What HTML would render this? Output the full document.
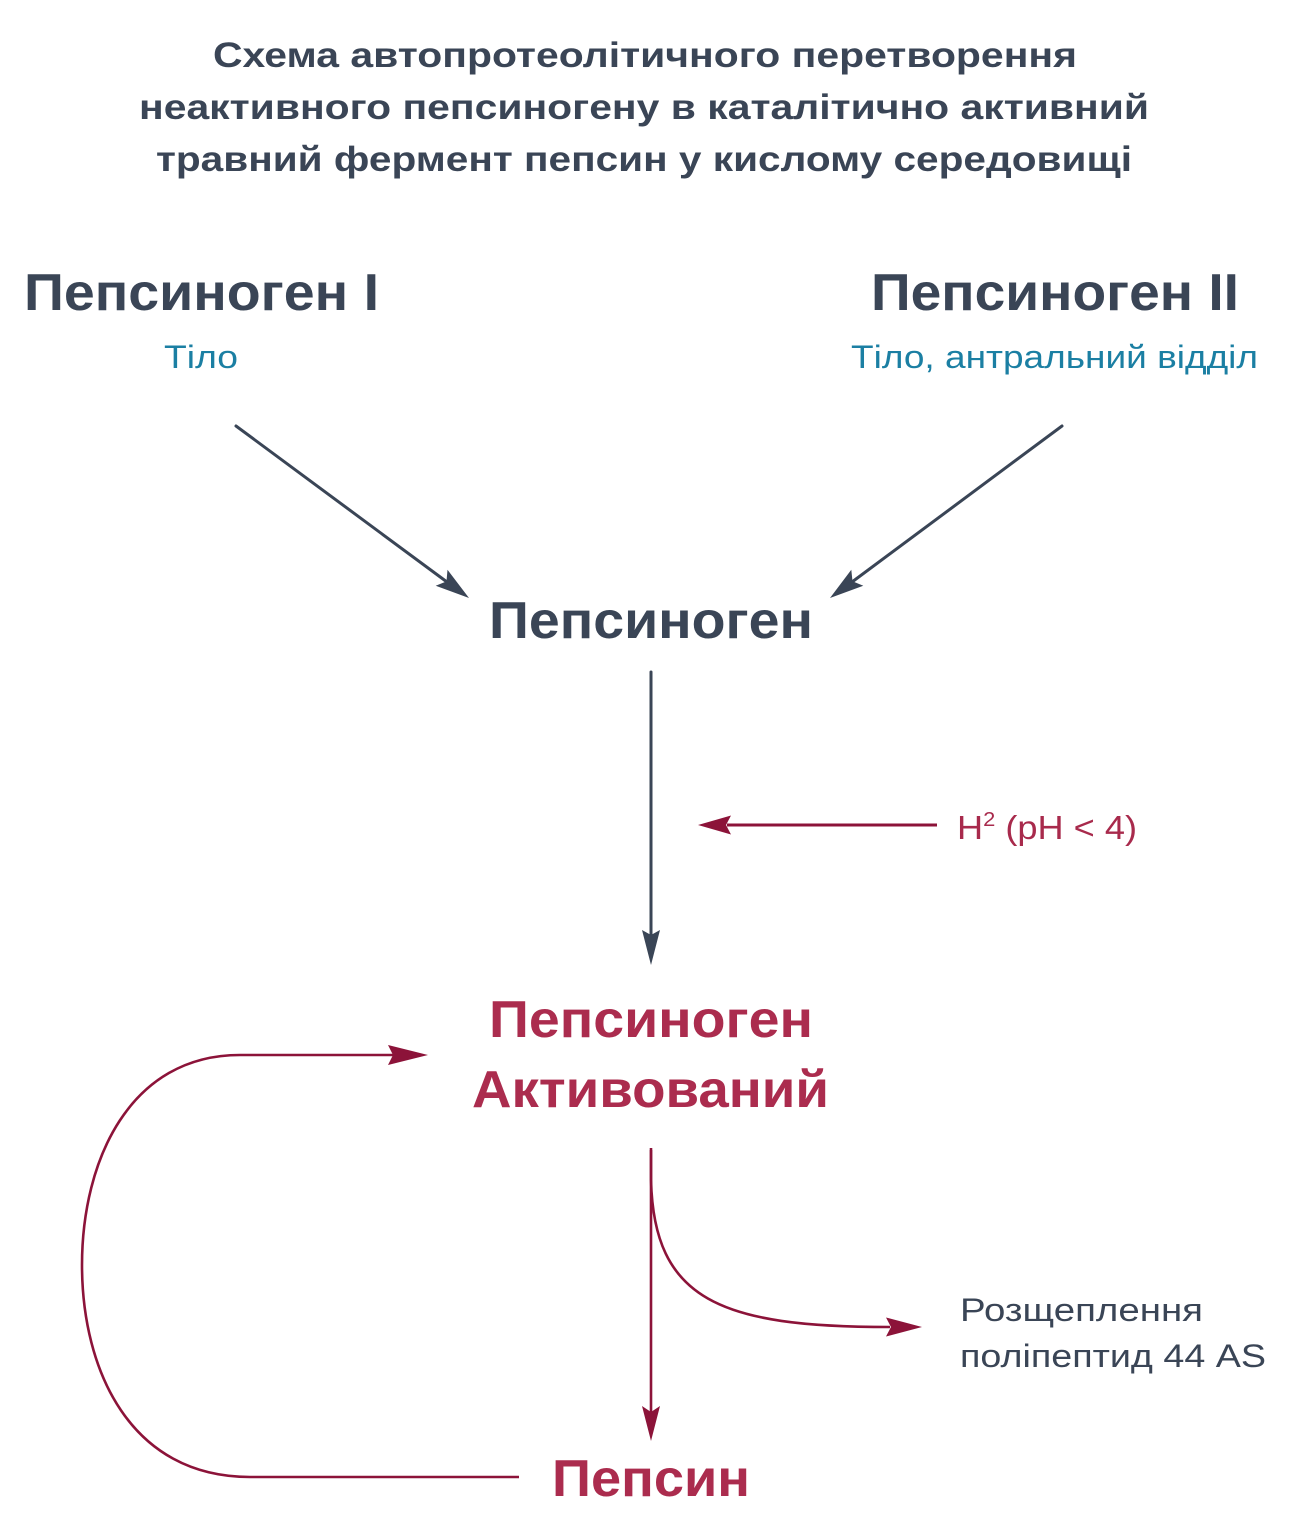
<!DOCTYPE html>
<html>
<head>
<meta charset="utf-8">
<style>
  html, body { margin:0; padding:0; background:#ffffff; }
  body { width:1290px; height:1536px; overflow:hidden; }
  svg { display:block; }
  text { font-family: "Liberation Sans", "DejaVu Sans", sans-serif; }
</style>
</head>
<body>
<svg width="1290" height="1536" viewBox="0 0 1290 1536" xmlns="http://www.w3.org/2000/svg">
  <rect width="1290" height="1536" fill="#ffffff"/>

  <!-- Title -->
  <g fill="#3a4556" font-size="35" font-weight="bold">
    <text x="213" y="67" textLength="864" lengthAdjust="spacingAndGlyphs">Схема автопротеолітичного перетворення</text>
    <text x="139" y="119" textLength="1010" lengthAdjust="spacingAndGlyphs">неактивного пепсиногену в каталітично активний</text>
    <text x="156" y="171" textLength="976" lengthAdjust="spacingAndGlyphs">травний фермент пепсин у кислому середовищі</text>
  </g>

  <!-- Pepsinogen I / II -->
  <g fill="#3a4556" font-size="52" font-weight="bold">
    <text x="24" y="310" textLength="355" lengthAdjust="spacingAndGlyphs">Пепсиноген I</text>
    <text x="871" y="310" textLength="368" lengthAdjust="spacingAndGlyphs">Пепсиноген II</text>
    <text x="489" y="638" textLength="324" lengthAdjust="spacingAndGlyphs">Пепсиноген</text>
  </g>
  <g fill="#1b7fa3" font-size="32">
    <text x="164" y="368" textLength="74" lengthAdjust="spacingAndGlyphs">Тіло</text>
    <text x="851" y="368" textLength="407" lengthAdjust="spacingAndGlyphs">Тіло, антральний відділ</text>
  </g>

  <!-- Dark diagonal arrows -->
  <g stroke="#3a4556" stroke-width="3" fill="none" stroke-linecap="round">
    <line x1="236" y1="426" x2="447" y2="582"/>
    <line x1="1062" y1="426" x2="852" y2="582"/>
    <line x1="651" y1="672" x2="651" y2="935"/>
  </g>
  <g fill="#3a4556">
    <polygon points="469,598 435.7,585.8 446.5,581.4 447.5,569.7"/>
    <polygon points="830,598 851.3,569.7 852.5,581.3 863.3,585.8"/>
    <polygon points="651,965 642,930 651,935 660,930"/>
  </g>

  <!-- H2 arrow -->
  <line x1="727" y1="825" x2="937" y2="825" stroke="#8c1339" stroke-width="3"/>
  <polygon points="698,825 731,815.5 726,825 731,834.5" fill="#8c1339"/>
  <text x="957" y="839" fill="#a82a4c" font-size="33" textLength="180" lengthAdjust="spacingAndGlyphs">H<tspan font-size="20" dy="-13">2</tspan><tspan dy="13"> (pH &lt; 4)</tspan></text>

  <!-- Activated pepsinogen -->
  <g fill="#ab2c4e" font-size="52" font-weight="bold">
    <text x="489" y="1037" textLength="324" lengthAdjust="spacingAndGlyphs">Пепсиноген</text>
    <text x="472" y="1107" textLength="357" lengthAdjust="spacingAndGlyphs">Активований</text>
    <text x="552" y="1496" textLength="198" lengthAdjust="spacingAndGlyphs">Пепсин</text>
  </g>

  <!-- Red connectors -->
  <g stroke="#8c1339" stroke-width="2.6" fill="none">
    <line x1="651" y1="1148" x2="651" y2="1412"/>
    <path d="M651,1150 L651,1180 C654,1300 720,1327 890,1327"/>
    <path d="M519,1477 L250,1477 C130,1477 82,1370 82,1265 C82,1160 130,1055 240,1055 L395,1055"/>
  </g>
  <g fill="#8c1339">
    <polygon points="651,1441 642,1406 651,1412 660,1406"/>
    <polygon points="922,1327 886,1317.5 891,1327 886,1336.5"/>
    <polygon points="428,1055 388,1045 393,1055 388,1065"/>
  </g>

  <!-- Side label -->
  <g fill="#3a4556" font-size="32">
    <text x="960" y="1321" textLength="243" lengthAdjust="spacingAndGlyphs">Розщеплення</text>
    <text x="960" y="1367" textLength="306" lengthAdjust="spacingAndGlyphs">поліпептид 44 AS</text>
  </g>
</svg>
</body>
</html>
